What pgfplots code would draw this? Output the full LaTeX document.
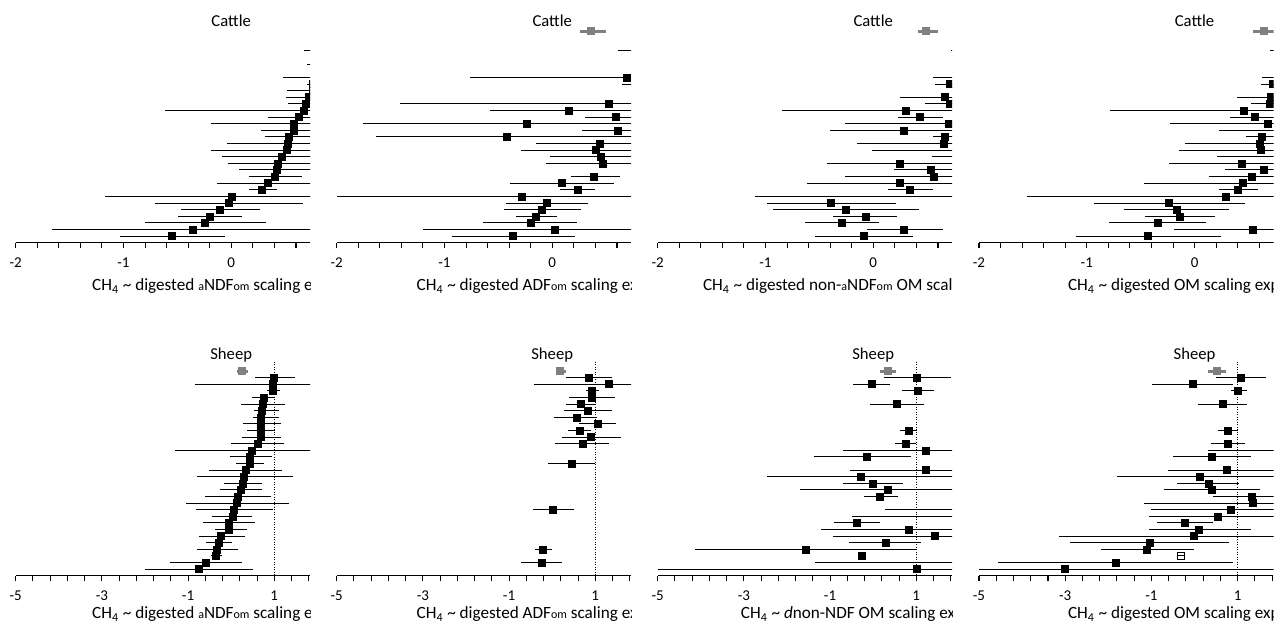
\documentclass[border=0pt]{standalone}
\usepackage{fontspec}
\setmainfont{Carlito}
\usepackage{pgfplots}
\usepackage{pgfplotstable}
\pgfplotsset{compat=1.18}
\newcommand{\sm}[1]{{\fontsize{7.2}{8}\selectfont #1}}
\newcommand{\ch}{CH\textsubscript{4} \textasciitilde{} }

% Cattle panels: k = row (0 = pooled, top), est, lower, upper
\pgfplotstableread{
k est lo hi
1 1.05 0.90 1.20
2 0.98 0.85 1.11
3 0.82 0.67 0.97
4 0.95 0.80 1.10
5 0.80 0.70 0.90
6 0.90 0.76 1.04
7 0.78 0.484 1.08
8 0.76 0.70 0.82
9 0.76 0.52 1.00
10 0.72 0.505 0.97
11 0.688 0.527 0.85
12 0.67 -0.611 1.95
13 0.623 0.341 0.905
14 0.583 -0.192 1.36
15 0.577 0.273 0.88
16 0.536 0.313 0.76
17 0.527 -0.037 1.09
18 0.515 -0.186 1.22
19 0.468 -0.084 1.02
20 0.428 -0.028 0.88
21 0.422 0.071 0.77
22 0.406 0.164 0.66
23 0.335 -0.13 0.80
24 0.282 0.164 0.422
25 0.0 -1.175 1.17
26 -0.025 -0.704 0.667
27 -0.109 -0.471 0.267
28 -0.2 -0.496 0.102
29 -0.245 -0.797 0.319
30 -0.357 -1.659 0.95
31 -0.549 -1.036 -0.062
}\dA
\pgfplotstableread{
k est lo hi
1 1.0 0.85 1.15
2 0.95 0.8 1.1
3 0.85 0.607 1.09
4 0.9 0.78 1.02
5 1.1 0.9 1.3
6 0.95 0.8 1.1
7 0.688 -0.765 2.1
8 0.80 0.648 0.95
9 0.95 0.8 1.1
10 1.0 0.85 1.15
11 0.524 -1.414 2.4
12 0.148 -0.58 0.88
13 0.586 0.30 0.87
14 -0.24 -1.753 1.27
15 0.605 0.275 0.93
16 -0.426 -1.64 0.79
17 0.438 -0.148 1.02
18 0.40 -0.287 1.09
19 0.453 -0.025 0.93
20 0.47 -0.062 1.0
21 0.9 0.76 1.04
22 0.385 0.17 0.624
23 0.089 -0.395 0.57
24 0.234 0.07 0.40
25 -0.281 -2.0 1.44
26 -0.047 -0.432 0.333
27 -0.096 -0.45 0.262
28 -0.152 -0.34 0.046
29 -0.2 -0.642 0.231
30 0.021 -1.204 1.25
31 -0.37 -0.929 0.206
}\dB
\pgfplotstableread{
k est lo hi
1 1.0 0.85 1.15
2 0.95 0.8 1.1
3 0.85 0.72 0.98
4 0.95 0.8 1.1
5 1.0 0.85 1.15
6 0.9 0.78 1.02
7 0.80 0.556 1.04
8 0.705 0.572 0.84
9 0.95 0.8 1.1
10 0.665 0.247 1.08
11 0.705 0.482 0.93
12 0.297 -0.85 1.44
13 0.433 0.232 0.649
14 0.696 -0.263 1.65
15 0.278 -0.402 0.96
16 0.662 0.556 0.77
17 0.655 -0.148 1.46
18 0.85 -0.015 1.7
19 0.80 0.547 1.05
20 0.241 -0.433 0.92
21 0.535 0.195 0.88
22 0.563 -0.263 1.39
23 0.247 -0.618 1.11
24 0.34 0.133 0.556
25 0.8 -1.097 2.7
26 -0.393 -0.989 0.207
27 -0.253 -0.934 0.427
28 -0.074 -0.371 0.216
29 -0.291 -0.634 0.056
30 0.287 -0.062 0.649
31 -0.09 -0.541 0.371
}\dC
\pgfplotstableread{
k est lo hi
1 1.0 0.85 1.15
2 0.95 0.8 1.1
3 0.85 0.704 1.0
4 0.95 0.8 1.1
5 1.0 0.85 1.15
6 0.9 0.78 1.02
7 0.85 0.623 1.08
8 0.725 0.617 0.83
9 0.95 0.8 1.1
10 0.71 0.392 1.03
11 0.694 0.519 0.87
12 0.454 -0.787 1.7
13 0.556 0.324 0.79
14 0.682 -0.231 1.6
15 0.80 0.222 1.38
16 0.623 0.478 0.77
17 0.602 -0.086 1.29
18 0.617 -0.145 1.38
19 0.80 0.21 1.39
20 0.441 -0.238 1.12
21 0.642 0.278 1.0
22 0.531 0.13 0.93
23 0.448 -0.472 1.37
24 0.401 0.222 0.586
25 0.293 -1.552 2.14
26 -0.238 -0.935 0.472
27 -0.17 -0.657 0.318
28 -0.139 -0.463 0.185
29 -0.346 -0.793 0.108
30 0.54 -0.194 1.27
31 -0.432 -1.096 0.247
}\dD
% Sheep panels
\pgfplotstableread{
k est lo hi
1 0.99 0.55 1.49
2 0.96 -0.84 2.76
3 0.96 0.82 1.13
4 0.745 0.49 0.99
5 0.73 0.23 1.26
6 0.71 0.54 1.12
7 0.68 0.51 1.12
8 0.69 0.28 1.15
9 0.69 0.37 1.02
10 0.68 0.24 1.15
11 0.61 -0.005 1.23
12 0.48 -1.3 2.26
13 0.44 -0.03 0.94
14 0.44 0.11 0.77
15 0.34 -0.52 1.19
16 0.30 -0.8 1.44
17 0.26 -0.17 0.72
18 0.23 -0.26 0.71
19 0.15 -0.61 0.92
20 0.13 -1.06 1.34
21 0.05 -0.82 0.98
22 0.03 -0.45 0.49
23 -0.06 -0.65 0.55
24 -0.06 -0.38 0.36
25 -0.24 -0.75 0.32
26 -0.29 -0.59 0.01
27 -0.34 -0.8 0.15
28 -0.35 -0.48 -0.21
29 -0.59 -1.42 0.24
30 -0.75 -1.99 0.5
}\dE
\pgfplotstableread{
k est lo hi
1 0.85 0.31 1.39
2 1.32 -0.43 3.07
3 0.92 0.78 1.08
4 0.92 0.38 1.45
5 0.67 0.31 1.02
6 0.82 0.28 1.39
7 0.57 0.05 1.05
8 1.05 0.63 1.49
9 0.63 0.36 0.90
10 0.90 0.22 1.60
11 0.71 0.07 1.32
14 0.45 -0.10 1.0
21 0.01 -0.45 0.51
27 -0.21 -0.40 -0.01
29 -0.25 -0.72 0.23
}\dF
\pgfplotstableread{
k est lo hi
1 1.02 0.24 1.80
2 -0.03 -0.46 0.38
3 1.04 0.67 1.40
5 0.55 -0.08 1.19
9 0.83 0.63 1.02
11 0.75 0.51 1.0
12 1.23 -0.71 3.17
13 -0.15 -1.38 0.88
15 1.21 -0.53 2.95
16 -0.28 -2.47 1.91
17 -0.01 -0.69 0.68
18 0.34 -1.69 2.37
19 0.16 -0.22 0.57
21 2.2 0.28 4.1
22 2.5 -0.49 5.5
23 -0.38 -0.92 0.16
24 0.83 -1.21 2.87
25 1.43 -0.94 3.8
26 0.29 -0.56 1.12
27 -1.57 -4.13 1.0
28 -0.27 -0.34 -0.18
29 2.2 -1.36 5.8
30 1.0 -5.0 7.0
}\dG
\pgfplotstableread{
k est lo hi
1 1.07 0.51 1.65
2 -0.04 -0.98 0.90
3 1.0 0.85 1.22
5 0.65 0.07 1.22
9 0.76 0.54 1.02
11 0.76 0.38 1.18
12 2.0 0.32 3.7
13 0.40 -0.49 1.32
15 0.74 -0.61 2.1
16 0.13 -1.79 2.05
17 0.32 -0.40 1.04
18 0.41 -0.70 1.53
19 1.33 0.44 2.22
20 1.34 -1.17 3.85
21 0.84 -1.01 2.69
22 0.53 -1.05 2.11
23 -0.22 -0.86 0.42
24 0.10 -1.06 1.30
25 -0.01 -3.14 3.12
26 -1.03 -2.89 0.80
27 -1.10 -2.18 -0.01
29 -1.83 -4.55 0.90
30 -3.02 -5.0 3.0
}\dH

\pgfplotsset{
  base/.style={
    scale only axis, width=176.7pt, clip=false,
    axis x line*=bottom, axis y line=none,
    axis line style={line width=0.65pt, black},
    tick align=outside, major tick length=3pt, minor tick length=3pt,
    tick style={line width=0.65pt, black},
    xticklabel style={font=\fontsize{9}{10}\selectfont, anchor=base, yshift=-12pt},
    anchor=south west,
  },
  toprow/.style={base, xmin=-2, xmax=0.732, ymin=-32, ymax=0, height=126.96pt,
    xtick={-2,-1,0}, xticklabels={-2,-1,0},
    minor xtick={-1.8,-1.6,-1.4,-1.2,-0.8,-0.6,-0.4,-0.2,0.2,0.4,0.6}},
  botrow/.style={base, xmin=-5, xmax=1.833, ymin=-31, ymax=0, height=122.8pt,
    xtick={-5,-3,-1,1}, xticklabels={-5,-3,-1,1},
    minor xtick={-4.6,-4.2,-3.8,-3.4,-2.6,-2.2,-1.8,-1.4,-0.6,-0.2,0.2,0.6,1.4,1.8}},
  pts/.style={only marks, mark=square*, mark size=2.1pt, black,
    mark options={line width=0.3pt},
    error bars/x dir=both, error bars/x explicit, error bars/error mark=none,
    error bars/error bar style={line width=0.6pt, black}},
  pool/.style={only marks, mark=square*, mark size=2.1pt, color=gray,
    error bars/x dir=both, error bars/x explicit, error bars/error mark=none,
    error bars/error bar style={line width=1.8pt, gray}},
  ref/.style={no marks, densely dotted, line width=0.5pt, black},
}
\newcommand{\ttl}{\fontsize{10}{12}\selectfont}
\newcommand{\lbl}{\fontsize{10.3}{12}\selectfont}

\begin{document}
\begin{tikzpicture}
\useasboundingbox (0,0) rectangle (772.2pt,378.6pt);

% ---------- Cattle, aNDFom ----------
\begin{scope}
\clip (0pt,192pt) rectangle (186.12pt,378.6pt);
\begin{axis}[toprow, at={(9.42pt,232.98pt)}]
\addplot[pts] table[x=est, y expr=-\thisrow{k}, x error plus expr=\thisrow{hi}-\thisrow{est}, x error minus expr=\thisrow{est}-\thisrow{lo}] {\dA};
\addplot[pool] coordinates {(0.85,0) +- (0.11,0)};
\end{axis}
\node[anchor=base] at (138.72pt,362.6pt) {\ttl Cattle};
\node[anchor=base] at (138.72pt,204.2pt) {\lbl\ch digested \sm{a}NDF\sm{om} scaling exponent};
\end{scope}

% ---------- Cattle, ADFom ----------
\begin{scope}
\clip (186.6pt,192pt) rectangle (378.72pt,378.6pt);
\begin{axis}[toprow, at={(202.02pt,232.98pt)}]
\addplot[pts] table[x=est, y expr=-\thisrow{k}, x error plus expr=\thisrow{hi}-\thisrow{est}, x error minus expr=\thisrow{est}-\thisrow{lo}] {\dB};
\addplot[pool] coordinates {(0.361,0) += (0.133,0) -= (0.105,0)};
\end{axis}
\node[anchor=base] at (331.32pt,362.6pt) {\ttl Cattle};
\node[anchor=base] at (331.32pt,204.2pt) {\lbl\ch digested ADF\sm{om} scaling exponent};
\end{scope}

% ---------- Cattle, non-aNDFom OM ----------
\begin{scope}
\clip (379.2pt,192pt) rectangle (571.32pt,378.6pt);
\begin{axis}[toprow, at={(394.62pt,232.98pt)}]
\addplot[pts] table[x=est, y expr=-\thisrow{k}, x error plus expr=\thisrow{hi}-\thisrow{est}, x error minus expr=\thisrow{est}-\thisrow{lo}] {\dC};
\addplot[pool] coordinates {(0.488,0) += (0.115,0) -= (0.077,0)};
\end{axis}
\node[anchor=base] at (523.92pt,362.6pt) {\ttl Cattle};
\node[anchor=base] at (523.92pt,204.2pt) {\lbl\ch digested non-\sm{a}NDF\sm{om} OM scaling exponent};
\end{scope}

% ---------- Cattle, OM ----------
\begin{scope}
\clip (571.8pt,192pt) rectangle (764.1pt,378.6pt);
\begin{axis}[toprow, at={(587.4pt,232.98pt)}]
\addplot[pts] table[x=est, y expr=-\thisrow{k}, x error plus expr=\thisrow{hi}-\thisrow{est}, x error minus expr=\thisrow{est}-\thisrow{lo}] {\dD};
\addplot[pool] coordinates {(0.639,0) +- (0.10,0)};
\end{axis}
\node[anchor=base] at (716.7pt,362.6pt) {\ttl Cattle};
\node[anchor=base] at (716.7pt,204.2pt) {\lbl\ch digested OM scaling exponent};
\end{scope}

% ---------- Sheep, aNDFom ----------
\begin{scope}
\clip (0pt,0pt) rectangle (186.12pt,192pt);
\begin{axis}[botrow, at={(9.42pt,33.18pt)}]
\addplot[ref] coordinates {(1,1.41) (1,-31)};
\addplot[pts] table[x=est, y expr=-\thisrow{k}, x error plus expr=\thisrow{hi}-\thisrow{est}, x error minus expr=\thisrow{est}-\thisrow{lo}] {\dE};
\addplot[pool] coordinates {(0.258,0) += (0.13,0) -= (0.12,0)};
\end{axis}
\node[anchor=base] at (138.72pt,163pt) {\ttl Sheep};
\node[anchor=base] at (138.72pt,7.5pt) {\lbl\ch digested \sm{a}NDF\sm{om} scaling exponent};
\end{scope}

% ---------- Sheep, ADFom ----------
\begin{scope}
\clip (186.6pt,0pt) rectangle (378.72pt,192pt);
\begin{axis}[botrow, at={(202.02pt,33.18pt)}]
\addplot[ref] coordinates {(1,1.41) (1,-31)};
\addplot[pts] table[x=est, y expr=-\thisrow{k}, x error plus expr=\thisrow{hi}-\thisrow{est}, x error minus expr=\thisrow{est}-\thisrow{lo}] {\dF};
\addplot[pool] coordinates {(0.18,0) += (0.13,0) -= (0.09,0)};
\end{axis}
\node[anchor=base] at (331.32pt,163pt) {\ttl Sheep};
\node[anchor=base] at (331.32pt,7.5pt) {\lbl\ch digested ADF\sm{om} scaling exponent};
\end{scope}

% ---------- Sheep, dnon-NDF OM ----------
\begin{scope}
\clip (379.2pt,0pt) rectangle (571.32pt,192pt);
\begin{axis}[botrow, at={(394.62pt,33.18pt)}]
\addplot[ref] coordinates {(1,1.41) (1,-31)};
\addplot[pts] table[x=est, y expr=-\thisrow{k}, x error plus expr=\thisrow{hi}-\thisrow{est}, x error minus expr=\thisrow{est}-\thisrow{lo}] {\dG};
\addplot[pool] coordinates {(0.33,0) += (0.2,0) -= (0.17,0)};
\end{axis}
\node[anchor=base] at (523.92pt,163pt) {\ttl Sheep};
\node[anchor=base] at (523.92pt,7.5pt) {\lbl\ch \textit{d}non-NDF OM scaling exponent};
\end{scope}

% ---------- Sheep, OM ----------
\begin{scope}
\clip (571.8pt,0pt) rectangle (764.1pt,192pt);
\begin{axis}[botrow, at={(587.4pt,33.18pt)}]
\addplot[ref] coordinates {(1,1.41) (1,-31)};
\addplot[pts] table[x=est, y expr=-\thisrow{k}, x error plus expr=\thisrow{hi}-\thisrow{est}, x error minus expr=\thisrow{est}-\thisrow{lo}] {\dH};
\addplot[only marks, mark=square, mark size=2pt, black, mark options={line width=0.6pt},
  error bars/x dir=both, error bars/x explicit, error bars/error mark=none,
  error bars/error bar style={line width=0.6pt, black}]
  coordinates {(-0.32,-28) += (0.10,0) -= (0.08,0)};
\addplot[pool] coordinates {(0.51,0) += (0.21,0) -= (0.19,0)};
\end{axis}
\node[anchor=base] at (716.7pt,163pt) {\ttl Sheep};
\node[anchor=base] at (716.7pt,7.5pt) {\lbl\ch digested OM scaling exponent};
\end{scope}

\end{tikzpicture}
\end{document}
